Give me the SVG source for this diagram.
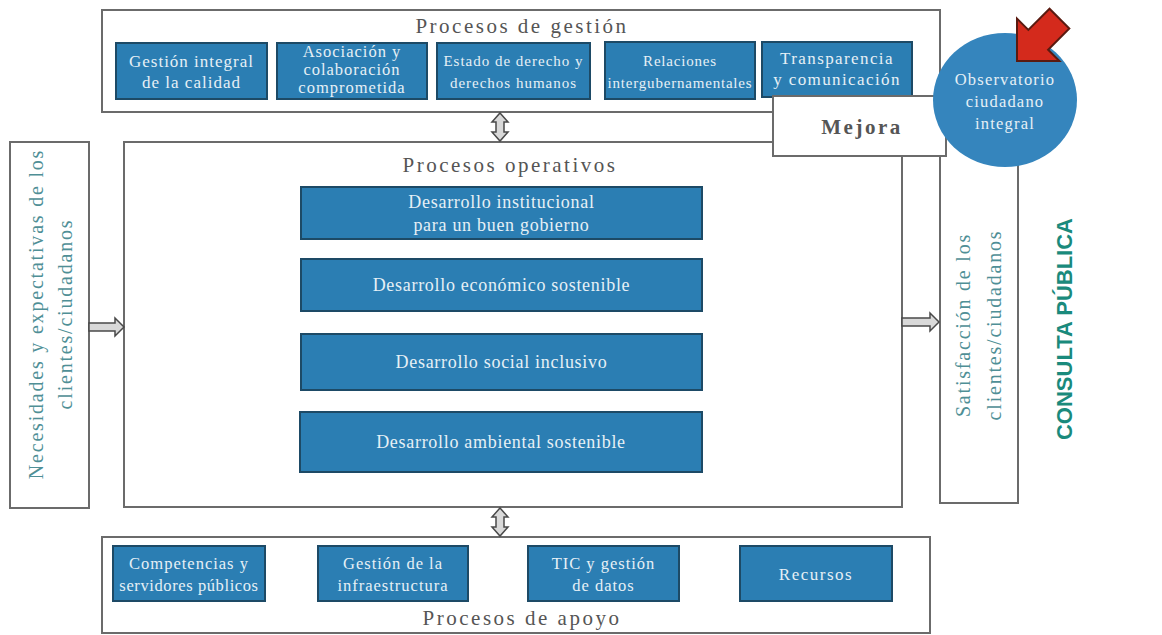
<svg xmlns="http://www.w3.org/2000/svg" width="1162" height="635" viewBox="0 0 1162 635">
<style>
.frame{fill:#fff;stroke:#6b6b6b;stroke-width:2}
.blue{fill:#2b7eb3;stroke:#1d4a66;stroke-width:2}
.bt{font-family:"Liberation Serif",serif;fill:#e6f0f6;text-anchor:middle}
.title{font-family:"Liberation Serif",serif;fill:#555;font-size:21px;letter-spacing:2.5px;text-anchor:middle}
.vt{font-family:"Liberation Serif",serif;fill:#4f8f96;font-size:20px;letter-spacing:1.8px;text-anchor:middle}
.arr{fill:#d9d9d9;stroke:#4a4a4a;stroke-width:1.5}
</style>
<rect width="1162" height="635" fill="#fff"/>

<g id="gestion">
<rect class="frame" x="102" y="10" width="838" height="102"/>
<text class="title" x="522" y="33">Procesos de gestión</text>
</g>
<g id="g1"><rect class="blue" x="116" y="43" width="151" height="56"/>
<text class="bt" font-size="17" letter-spacing="1" x="191.5" y="67">Gestión integral</text><text class="bt" font-size="17" letter-spacing="1" x="191.5" y="88">de la calidad</text></g>
<g id="g2"><rect class="blue" x="277" y="43" width="150" height="56"/>
<text class="bt" font-size="16.5" letter-spacing="1" x="352" y="57">Asociación y</text><text class="bt" font-size="16.5" letter-spacing="1" x="352" y="75">colaboración</text><text class="bt" font-size="16.5" letter-spacing="1" x="352" y="93">comprometida</text></g>
<g id="g3"><rect class="blue" x="437" y="43" width="153" height="56"/>
<text class="bt" font-size="15" letter-spacing="1" x="513.5" y="66">Estado de derecho y</text><text class="bt" font-size="15" letter-spacing="1" x="513.5" y="88">derechos humanos</text></g>
<g id="g4"><rect class="blue" x="605" y="42" width="150" height="57"/>
<text class="bt" font-size="15" letter-spacing="0.8" x="680" y="66">Relaciones</text><text class="bt" font-size="15" letter-spacing="0.8" x="680" y="88">intergubernamentales</text></g>
<g id="g5"><rect class="blue" x="762" y="42" width="150" height="55"/>
<text class="bt" font-size="17" letter-spacing="1.4" x="837" y="64">Transparencia</text><text class="bt" font-size="17" letter-spacing="1.4" x="837" y="85">y comunicación</text></g>

<g id="operativos">
<rect class="frame" x="124" y="142" width="778" height="365"/>
<text class="title" x="510" y="172">Procesos operativos</text>
</g>
<g id="o1"><rect class="blue" x="301" y="187" width="401" height="52"/>
<text class="bt" font-size="18" letter-spacing="0.7" x="501.5" y="208">Desarrollo institucional</text><text class="bt" font-size="18" letter-spacing="0.7" x="501.5" y="231">para un buen gobierno</text></g>
<g id="o2"><rect class="blue" x="301" y="259" width="401" height="52"/>
<text class="bt" font-size="18" letter-spacing="0.7" x="501.5" y="291">Desarrollo económico sostenible</text></g>
<g id="o3"><rect class="blue" x="301" y="334" width="401" height="56"/>
<text class="bt" font-size="18" letter-spacing="0.7" x="501.5" y="368">Desarrollo social inclusivo</text></g>
<g id="o4"><rect class="blue" x="300" y="412" width="402" height="60"/>
<text class="bt" font-size="18" letter-spacing="0.7" x="501" y="448">Desarrollo ambiental sostenible</text></g>

<g id="necesidades">
<rect class="frame" x="10" y="142" width="79" height="366"/>
<text class="vt" transform="translate(50,314) rotate(-90)"><tspan x="0" y="-7">Necesidades y expectativas de los</tspan><tspan x="0" y="22">clientes/ciudadanos</tspan></text>
</g>

<g id="satisfaccion">
<path d="M940,150 L940,503 L1018,503 L1018,160" fill="#fff" stroke="#6b6b6b" stroke-width="2"/>
<text class="vt" transform="translate(980,325) rotate(-90)"><tspan x="0" y="-10">Satisfacción de los</tspan><tspan x="0" y="21">clientes/ciudadanos</tspan></text>
</g>

<g id="apoyo">
<rect class="frame" x="102" y="537" width="828" height="96"/>
<text class="title" x="522" y="625">Procesos de apoyo</text>
</g>
<g id="a1"><rect class="blue" x="113" y="546" width="152" height="55"/>
<text class="bt" font-size="16.5" letter-spacing="1" x="189" y="569">Competencias y</text><text class="bt" font-size="16.5" letter-spacing="0.6" x="189" y="591">servidores públicos</text></g>
<g id="a2"><rect class="blue" x="318" y="546" width="150" height="55"/>
<text class="bt" font-size="16.5" letter-spacing="1" x="393" y="569">Gestión de la</text><text class="bt" font-size="16.5" letter-spacing="1" x="393" y="591">infraestructura</text></g>
<g id="a3"><rect class="blue" x="528" y="546" width="151" height="55"/>
<text class="bt" font-size="16.5" letter-spacing="1" x="603.5" y="569">TIC y gestión</text><text class="bt" font-size="16.5" letter-spacing="1" x="603.5" y="591">de datos</text></g>
<g id="a4"><rect class="blue" x="740" y="546" width="152" height="55"/>
<text class="bt" font-size="17" letter-spacing="1.5" x="816" y="580">Recursos</text></g>

<g id="mejora">
<rect x="773" y="96" width="173" height="60" fill="#fff" stroke="#6b6b6b" stroke-width="2"/>
<text class="title" x="862" y="134" font-weight="bold" font-size="19" letter-spacing="2" fill="#666">Mejora</text>
</g>

<g id="observatorio">
<ellipse cx="1005" cy="100" rx="72" ry="67" fill="#3585bd"/>
<text class="bt" font-size="16.5" letter-spacing="1.2" x="1005" y="85">Observatorio</text>
<text class="bt" font-size="16.5" letter-spacing="1.2" x="1005" y="107">ciudadano</text>
<text class="bt" font-size="16.5" letter-spacing="1.2" x="1005" y="129">integral</text>
<path transform="translate(1017,61) rotate(135)" d="M0,0 L-30,-30 L-30,-14 L-60,-14 L-60,14 L-30,14 L-30,30 Z" fill="#d42a1c" stroke="#5a1a10" stroke-width="2" stroke-linejoin="miter"/>
</g>

<g id="consulta">
<text transform="translate(1072,329) rotate(-90)" text-anchor="middle" font-family="Liberation Sans,Arial,sans-serif" font-weight="bold" font-size="22" fill="#1a8a7c">CONSULTA PÚBLICA</text>
</g>

<g id="connectors">
<path class="arr" d="M500,113 L508,122 L504,122 L504,132 L508,132 L500,141 L492,132 L496,132 L496,122 L492,122 Z"/>
<path class="arr" d="M500,508 L508,517 L504,517 L504,527 L508,527 L500,536 L492,527 L496,527 L496,517 L492,517 Z"/>
<path class="arr" d="M89,323 L115,323 L115,318 L124,327 L115,336 L115,331 L89,331 Z"/>
<path class="arr" d="M902,318 L930,318 L930,313 L939,322 L930,331 L930,326 L902,326 Z"/>
</g>
</svg>
